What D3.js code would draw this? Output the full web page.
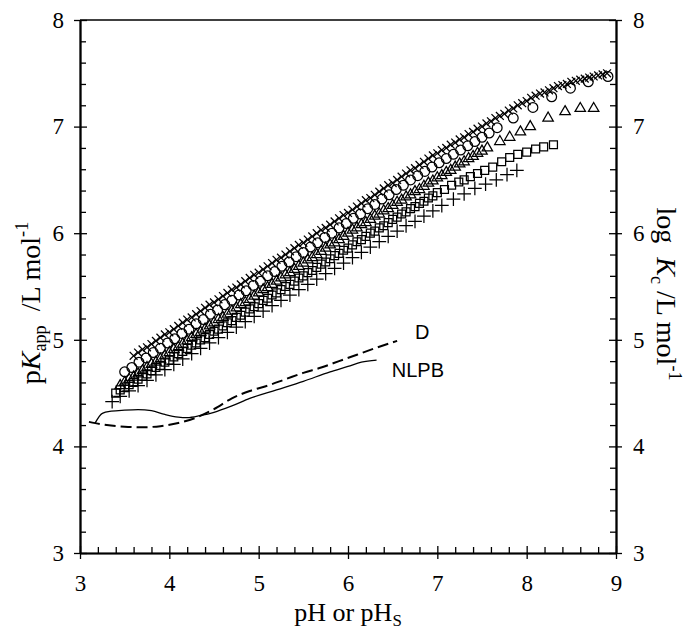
<!DOCTYPE html>
<html><head><meta charset="utf-8">
<script src="https://cdn.jsdelivr.net/npm/d3@7"></script>
<style>body{margin:0;background:#fff}svg{display:block}text{white-space:pre}</style>
</head><body>
<svg id="c" width="684" height="639"></svg>
<script>
// ---- data ----
const xTicks = [3,4,5,6,7,8,9];
const yTicks = [3,4,5,6,7,8];

const crossPts = [[3.60,4.85],[3.65,4.88],[3.70,4.91],[3.75,4.93],[3.80,4.96],[3.85,4.99],[3.90,5.02],[3.95,5.05],[4.00,5.07],[4.05,5.10],[4.10,5.13],[4.15,5.16],[4.20,5.19],[4.25,5.21],[4.30,5.24],[4.35,5.27],[4.40,5.30],[4.45,5.33],[4.50,5.35],[4.55,5.38],[4.60,5.41],[4.65,5.44],[4.70,5.47],[4.75,5.49],[4.80,5.52],[4.85,5.55],[4.90,5.58],[4.95,5.61],[5.00,5.63],[5.05,5.66],[5.10,5.69],[5.15,5.72],[5.20,5.75],[5.25,5.77],[5.30,5.80],[5.35,5.83],[5.40,5.86],[5.45,5.89],[5.50,5.91],[5.55,5.94],[5.60,5.97],[5.65,6.00],[5.70,6.03],[5.75,6.05],[5.80,6.08],[5.85,6.11],[5.90,6.14],[5.95,6.17],[6.00,6.19],[6.05,6.22],[6.10,6.25],[6.15,6.28],[6.20,6.31],[6.25,6.33],[6.30,6.36],[6.35,6.39],[6.40,6.42],[6.45,6.45],[6.50,6.47],[6.55,6.50],[6.60,6.53],[6.65,6.56],[6.70,6.59],[6.75,6.61],[6.80,6.64],[6.85,6.67],[6.90,6.70],[6.95,6.73],[7.00,6.75],[7.05,6.78],[7.10,6.80],[7.15,6.83],[7.20,6.85],[7.25,6.88],[7.30,6.90],[7.35,6.93],[7.40,6.95],[7.45,6.98],[7.50,7.00],[7.55,7.03],[7.60,7.05],[7.65,7.08],[7.70,7.10],[7.75,7.12],[7.80,7.15],[7.85,7.17],[7.90,7.20],[7.95,7.22],[8.00,7.24],[8.05,7.27],[8.10,7.29],[8.15,7.31],[8.20,7.32],[8.25,7.34],[8.30,7.36],[8.35,7.38],[8.40,7.39],[8.45,7.40],[8.50,7.42],[8.55,7.43],[8.60,7.44],[8.65,7.45],[8.70,7.46],[8.75,7.47],[8.80,7.48],[8.85,7.49],[8.90,7.50]];

const circlePts = [[3.50,4.70],[3.58,4.74],[3.66,4.79],[3.74,4.83],[3.82,4.88],[3.90,4.92],[3.98,4.97],[4.06,5.01],[4.14,5.06],[4.22,5.10],[4.30,5.15],[4.38,5.19],[4.46,5.24],[4.54,5.28],[4.62,5.33],[4.70,5.37],[4.78,5.42],[4.86,5.46],[4.94,5.51],[5.02,5.55],[5.10,5.60],[5.18,5.64],[5.26,5.69],[5.34,5.73],[5.42,5.78],[5.50,5.82],[5.58,5.87],[5.66,5.91],[5.74,5.96],[5.82,6.00],[5.90,6.05],[5.98,6.09],[6.06,6.14],[6.14,6.18],[6.22,6.23],[6.30,6.27],[6.38,6.32],[6.46,6.36],[6.54,6.41],[6.62,6.45],[6.70,6.50],[6.78,6.54],[6.86,6.58],[6.94,6.62],[7.02,6.66],[7.10,6.70],[7.18,6.74],[7.26,6.78],[7.34,6.82],[7.42,6.86],[7.50,6.90],[7.58,6.94],[7.67,6.99],[7.85,7.08],[8.07,7.18],[8.28,7.28],[8.49,7.36],[8.69,7.42],[8.91,7.47]];

const trianglePts = [[3.45,4.57],[3.50,4.60],[3.55,4.63],[3.60,4.65],[3.65,4.68],[3.70,4.71],[3.75,4.74],[3.80,4.77],[3.85,4.79],[3.90,4.82],[3.95,4.85],[4.00,4.88],[4.05,4.91],[4.10,4.93],[4.15,4.96],[4.20,4.99],[4.25,5.02],[4.30,5.05],[4.35,5.07],[4.40,5.10],[4.45,5.13],[4.50,5.16],[4.55,5.19],[4.60,5.21],[4.65,5.24],[4.70,5.27],[4.75,5.30],[4.80,5.33],[4.85,5.35],[4.90,5.38],[4.95,5.41],[5.00,5.44],[5.05,5.47],[5.10,5.49],[5.15,5.52],[5.20,5.55],[5.25,5.58],[5.30,5.61],[5.35,5.63],[5.40,5.66],[5.45,5.69],[5.50,5.72],[5.55,5.75],[5.60,5.77],[5.65,5.80],[5.70,5.83],[5.75,5.86],[5.80,5.89],[5.85,5.91],[5.90,5.94],[5.95,5.97],[6.00,6.00],[6.05,6.03],[6.10,6.05],[6.15,6.08],[6.20,6.10],[6.25,6.13],[6.30,6.16],[6.35,6.18],[6.40,6.21],[6.45,6.23],[6.50,6.26],[6.55,6.29],[6.60,6.31],[6.65,6.34],[6.70,6.36],[6.75,6.39],[6.80,6.41],[6.85,6.44],[6.90,6.47],[6.95,6.49],[7.00,6.52],[7.05,6.54],[7.10,6.57],[7.15,6.59],[7.20,6.62],[7.25,6.65],[7.30,6.67],[7.35,6.70],[7.40,6.72],[7.45,6.75],[7.50,6.77],[7.56,6.80],[7.70,6.86],[7.81,6.90],[7.93,6.95],[8.04,7.00],[8.24,7.08],[8.43,7.14],[8.60,7.17],[8.75,7.17]];

const squarePts = [[3.40,4.50],[3.45,4.53],[3.50,4.55],[3.55,4.58],[3.60,4.60],[3.65,4.63],[3.70,4.66],[3.75,4.68],[3.80,4.71],[3.85,4.74],[3.90,4.76],[3.95,4.79],[4.00,4.81],[4.05,4.84],[4.10,4.87],[4.15,4.89],[4.20,4.92],[4.25,4.95],[4.30,4.97],[4.35,5.00],[4.40,5.02],[4.45,5.05],[4.50,5.08],[4.55,5.10],[4.60,5.13],[4.65,5.16],[4.70,5.18],[4.75,5.21],[4.80,5.23],[4.85,5.26],[4.90,5.29],[4.95,5.31],[5.00,5.34],[5.05,5.37],[5.10,5.39],[5.15,5.42],[5.20,5.44],[5.25,5.47],[5.30,5.50],[5.35,5.52],[5.40,5.55],[5.45,5.58],[5.50,5.60],[5.55,5.63],[5.60,5.65],[5.65,5.68],[5.70,5.71],[5.75,5.73],[5.80,5.76],[5.85,5.79],[5.90,5.81],[5.95,5.84],[6.00,5.86],[6.05,5.89],[6.10,5.92],[6.15,5.94],[6.20,5.97],[6.25,6.00],[6.30,6.02],[6.35,6.05],[6.40,6.07],[6.45,6.10],[6.50,6.13],[6.55,6.15],[6.60,6.18],[6.65,6.20],[6.70,6.23],[6.75,6.25],[6.80,6.28],[6.85,6.30],[6.90,6.33],[6.95,6.35],[7.00,6.38],[7.08,6.41],[7.16,6.45],[7.24,6.48],[7.30,6.50],[7.37,6.53],[7.45,6.56],[7.53,6.59],[7.62,6.62],[7.72,6.67],[7.81,6.71],[7.90,6.74],[8.00,6.76],[8.10,6.79],[8.19,6.81],[8.30,6.83]];

const plusPts = [[3.36,4.42],[3.45,4.47],[3.55,4.52],[3.65,4.57],[3.75,4.62],[3.85,4.67],[3.95,4.72],[4.05,4.77],[4.15,4.82],[4.25,4.87],[4.35,4.92],[4.45,4.97],[4.55,5.02],[4.65,5.07],[4.75,5.12],[4.85,5.17],[4.95,5.22],[5.05,5.27],[5.15,5.32],[5.25,5.37],[5.35,5.42],[5.45,5.47],[5.55,5.52],[5.65,5.57],[5.75,5.62],[5.85,5.67],[5.95,5.72],[6.05,5.77],[6.15,5.82],[6.25,5.87],[6.35,5.92],[6.45,5.97],[6.55,6.02],[6.65,6.07],[6.75,6.11],[6.85,6.16],[6.95,6.21],[7.05,6.26],[7.18,6.32],[7.30,6.37],[7.42,6.42],[7.54,6.46],[7.66,6.50],[7.78,6.55],[7.89,6.59]];

const dCurve = [[3.10,4.23],[3.30,4.20],[3.50,4.185],[3.70,4.18],[3.90,4.19],[4.10,4.22],[4.30,4.27],[4.50,4.35],[4.70,4.45],[4.90,4.52],[5.10,4.57],[5.30,4.63],[5.50,4.69],[5.70,4.74],[5.90,4.80],[6.10,4.86],[6.30,4.92],[6.55,4.99]];
const nlpbCurve = [[3.17,4.22],[3.25,4.31],[3.35,4.33],[3.50,4.34],[3.65,4.345],[3.80,4.335],[3.95,4.30],[4.10,4.275],[4.20,4.27],[4.35,4.29],[4.50,4.32],[4.70,4.38],[4.90,4.45],[5.20,4.53],[5.50,4.61],[5.80,4.70],[6.00,4.75],[6.15,4.79],[6.32,4.81]];

const curveLabels = [{name:"D", x:6.75, y:5.01}, {name:"NLPB", x:6.49, y:4.65}];

// ---- drawing ----
const svg = d3.select("#c");
const L = 80, R = 616, T = 20, B = 553;
const x = d3.scaleLinear().domain([3,9]).range([L,R]);
const y = d3.scaleLinear().domain([3,8]).range([B,T]);
const minorX = d3.range(3,9.001,0.2).map(v=>+v.toFixed(1)).filter(v=>!xTicks.includes(v));
const minorY = d3.range(3,8.001,0.2).map(v=>+v.toFixed(1)).filter(v=>!yTicks.includes(v));

const serif = "'Liberation Serif','Times New Roman',serif";
const tickFont = 23;

function styleAxis(g){
  g.selectAll("path.domain").attr("stroke","#000").attr("stroke-width",1.6);
  g.selectAll(".tick line").attr("stroke","#000").attr("stroke-width",1.3);
  g.selectAll("text").attr("font-family",serif).attr("font-size",tickFont).attr("fill","#000");
}
const gB = svg.append("g").attr("transform",`translate(0,${B})`);
gB.call(d3.axisBottom(x).tickValues(xTicks).tickSize(6).tickSizeOuter(0).tickPadding(16).tickFormat(d3.format("d")));
gB.append("g").call(d3.axisBottom(x).tickValues(xTicks).tickSize(-7).tickSizeOuter(0).tickFormat(""));
gB.append("g").call(d3.axisBottom(x).tickValues(minorX).tickSize(-6).tickSizeOuter(0).tickFormat(""));
styleAxis(gB);
const gL = svg.append("g").attr("transform",`translate(${L},0)`);
gL.call(d3.axisLeft(y).tickValues(yTicks).tickSize(6).tickSizeOuter(0).tickPadding(10).tickFormat(d3.format("d")));
gL.append("g").call(d3.axisLeft(y).tickValues(yTicks).tickSize(-7).tickSizeOuter(0).tickFormat(""));
gL.append("g").call(d3.axisLeft(y).tickValues(minorY).tickSize(-6).tickSizeOuter(0).tickFormat(""));
styleAxis(gL);
const gR = svg.append("g").attr("transform",`translate(${R},0)`);
gR.call(d3.axisRight(y).tickValues(yTicks).tickSize(6).tickSizeOuter(0).tickPadding(11).tickFormat(d3.format("d")));
gR.append("g").call(d3.axisRight(y).tickValues(yTicks).tickSize(-7).tickSizeOuter(0).tickFormat(""));
gR.append("g").call(d3.axisRight(y).tickValues(minorY).tickSize(-6).tickSizeOuter(0).tickFormat(""));
styleAxis(gR);
svg.append("line").attr("x1",L).attr("x2",R).attr("y1",T).attr("y2",T).attr("stroke","#000").attr("stroke-width",1.6);

const series = [
  {pts:plusPts, sym:d3.symbolPlus, size:64},
  {pts:squarePts, sym:d3.symbolSquare2, size:80},
  {pts:trianglePts, sym:d3.symbolTriangle2, size:78},
  {pts:circlePts, sym:d3.symbolCircle, size:75},
  {pts:crossPts, sym:d3.symbolTimes, size:42}
];
series.forEach(s=>{
  svg.append("g").selectAll("path").data(s.pts).join("path")
    .attr("transform",d=>`translate(${x(d[0])},${y(d[1])})`)
    .attr("d",d3.symbol(s.sym,s.size)())
    .attr("fill","none").attr("stroke","#000").attr("stroke-width",1.25);
});

const line = d3.line().x(d=>x(d[0])).y(d=>y(d[1])).curve(d3.curveMonotoneX);
svg.append("path").datum(dCurve).attr("d",line)
  .attr("fill","none").attr("stroke","#000").attr("stroke-width",2).attr("stroke-dasharray","11,5");
svg.append("path").datum(nlpbCurve).attr("d",line)
  .attr("fill","none").attr("stroke","#000").attr("stroke-width",1.3);

svg.append("g").selectAll("text").data(curveLabels).join("text")
  .attr("x",d=>x(d.x)).attr("y",d=>y(d.y))
  .attr("font-family","'Liberation Sans',Arial,sans-serif").attr("font-size",20).attr("fill","#000")
  .text(d=>d.name);

const bFont = 26;
const bt = svg.append("text").attr("x",(L+R)/2).attr("y",621).attr("text-anchor","middle")
  .attr("font-family",serif).attr("font-size",bFont);
bt.append("tspan").text("pH or pH");
bt.append("tspan").attr("font-size",bFont*0.65).attr("dy",5).text("S");

const tFont = 28;
const lt = svg.append("text").attr("transform",`translate(40,303) rotate(-90)`).attr("text-anchor","middle")
  .attr("font-family",serif).attr("font-size",tFont);
lt.append("tspan").text("p");
lt.append("tspan").attr("font-style","italic").text("K");
lt.append("tspan").attr("font-size",tFont*0.65).attr("dy",6).text("app");
lt.append("tspan").attr("dy",-6).text("  /L mol");
lt.append("tspan").attr("font-size",tFont*0.65).attr("dy",-12).text("-1");

const rt = svg.append("text").attr("transform",`translate(657,294) rotate(90)`).attr("text-anchor","middle")
  .attr("font-family",serif).attr("font-size",tFont);
rt.append("tspan").text("log  ");
rt.append("tspan").attr("font-style","italic").text("K");
rt.append("tspan").attr("font-size",tFont*0.65).attr("dy",6).text("c");
rt.append("tspan").attr("dy",-6).text(" /L mol");
rt.append("tspan").attr("font-size",tFont*0.65).attr("dy",-12).text("-1");
</script>
</body></html>
